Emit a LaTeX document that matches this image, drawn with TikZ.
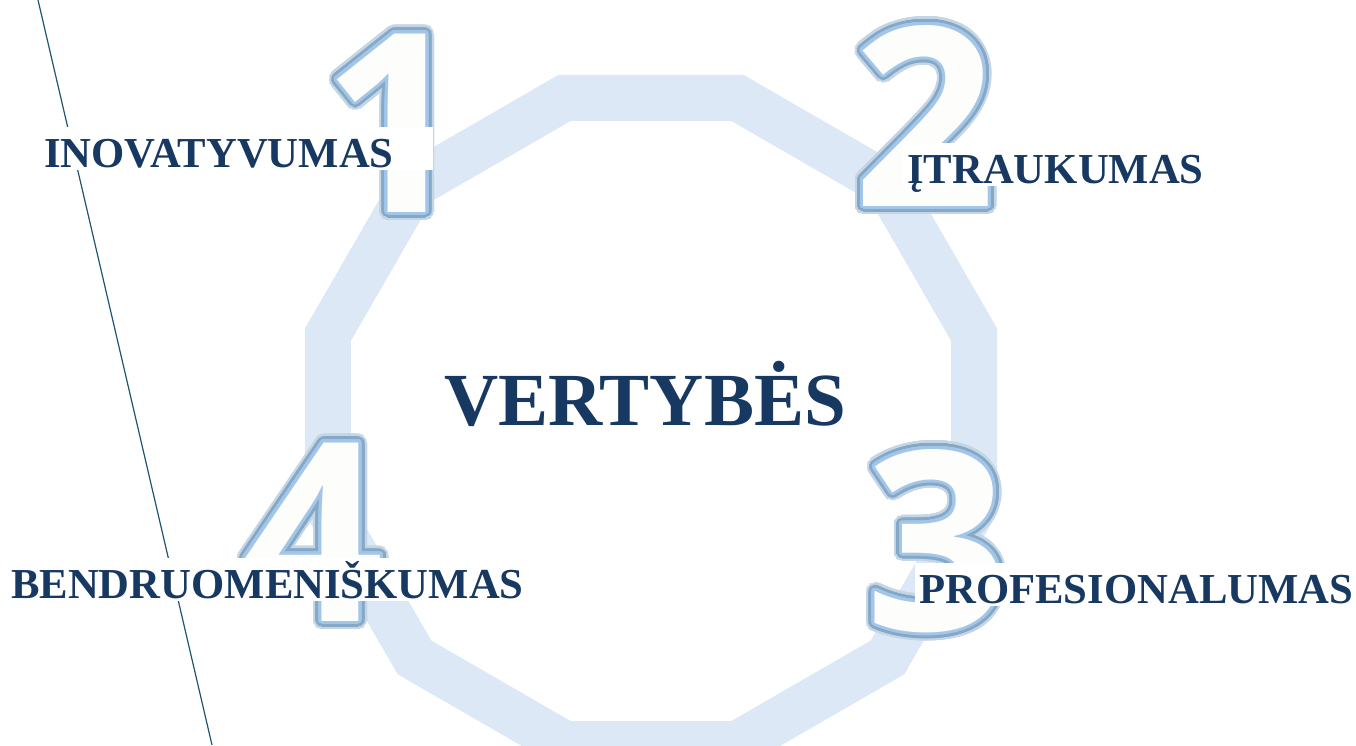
\documentclass[tikz,border=0pt]{standalone}
\usepackage{fontspec}
\setmainfont{Liberation Serif}
\newfontfamily\numfont{Open Sans}
\usepackage[copies]{contour}
\usetikzlibrary{positioning}
\definecolor{vblue}{RGB}{23,56,96}
\definecolor{bandblue}{RGB}{220,232,246}
\definecolor{numedge}{RGB}{163,198,232}
\definecolor{numglow}{RGB}{132,168,198}
\definecolor{numhalo}{RGB}{196,213,230}
\definecolor{numfill}{RGB}{253,253,251}
\definecolor{mline}{RGB}{30,85,115}
\contournumber{32}

\tikzset{
  numstyle/.style={anchor=base, inner sep=0pt, font=\numfont\bfseries\fontsize{250pt}{250pt}\selectfont},
  valbox/.style={fill=white, anchor=base west, inner xsep=4pt, inner ysep=2pt, text height=38pt, text depth=1pt, text=vblue, font=\bfseries\fontsize{42.7pt}{42.7pt}\selectfont},
  title/.style={anchor=base, inner sep=0pt, text=vblue, font=\bfseries\fontsize{75pt}{75pt}\selectfont},
  band/.style={bandblue, line width=46pt, line join=miter}
}

% big outlined digit: name, position, digit
\newcommand{\bignum}[3]{%
  \node [numstyle] at (#2) {\contourlength{8.5pt}\contour{numhalo}{\color{numhalo}#3}};
  \node [numstyle] at (#2) {\contourlength{6pt}\contour{numglow}{\color{numglow}#3}};
  \node [numstyle] (#1) at (#2) {\contourlength{3pt}\contour{numedge}{\color{numfill}#3}};
}

\begin{document}
\begin{tikzpicture}[x=1pt, y=-1pt]
    \useasboundingbox (0, 0) rectangle (1356, 745);

    \begin{scope}[shift={(651, 421)}]
      \draw [band] (15:334.4) \foreach \a in {45, 75, ..., 345} { -- (\a:334.4) } -- cycle;
    \end{scope}

    \coordinate (ltop) at (38, 0);
    \coordinate (lbot) at (212, 745);
    \draw [mline, line width=1.2pt] (ltop) -- (lbot);

    \bignum{one}{394, 212}{1}
    \bignum{two}{925, 206}{2}
    \bignum{three}{937, 630}{3}
    \bignum{four}{313, 621}{4}

    \node [valbox, text width=385pt] (inov) at (40, 167) {INOVATYVUMAS};
    \node [valbox] (itrauk) at (903, 183) {ĮTRAUKUMAS};
    \node [valbox] (prof) at (915, 603) {PROFESIONALUMAS};
    \node [valbox] (bendr) at (7, 598) {BENDRUOMENIŠKUMAS};

    \node [title] (vert) at (645, 425) {VERTYBĖS};
  \end{tikzpicture}
\end{document}
